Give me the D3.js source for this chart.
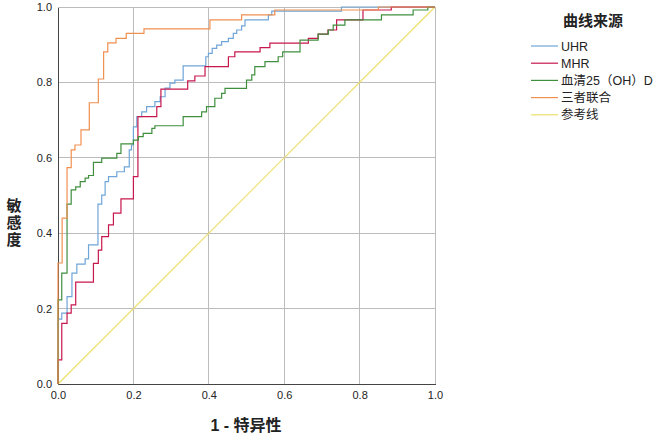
<!DOCTYPE html>
<html><head><meta charset="utf-8">
<script src="https://cdn.jsdelivr.net/npm/d3@7/dist/d3.min.js"></script>
<style>
html,body{margin:0;padding:0;background:#fff;}
svg{display:block;font-family:Arial,"Liberation Sans","Noto Sans CJK SC",sans-serif;}
</style></head>
<body><svg id="c" width="664" height="440"></svg>
<script>
// ---- data (step-curve corners: y rises at previous fpr, then runs right to this fpr) ----
const seriesNames = ["UHR","MHR","血清25（OH）D","三者联合","参考线"];
const seriesColors = ["#6fa5d8","#c8174d","#3f8f3f","#f09050","#ebe06a"];
const ticks = [0,0.2,0.4,0.6,0.8,1.0];
const tickLabels = ["0.0","0.2","0.4","0.6","0.8","1.0"];

const uhrFpr = [0,0.010,0.024,0.037,0.050,0.072,0.081,0.106,0.116,0.125,0.134,0.156,0.176,0.189,0.195,0.200,0.209,0.222,0.235,0.257,0.271,0.284,0.297,0.310,0.332,0.392,0.399,0.409,0.421,0.434,0.452,0.465,0.474,0.487,0.496,0.558,0.567,0.752,1];
const uhrTpr = [0,0.172,0.188,0.232,0.294,0.318,0.332,0.369,0.477,0.501,0.537,0.550,0.563,0.576,0.621,0.634,0.682,0.709,0.722,0.736,0.749,0.762,0.785,0.798,0.806,0.844,0.868,0.877,0.890,0.899,0.908,0.917,0.930,0.939,0.950,0.966,0.979,0.989,1];

const mhrFpr = [0,0.010,0.024,0.035,0.047,0.094,0.107,0.116,0.134,0.147,0.167,0.200,0.212,0.262,0.273,0.344,0.363,0.390,0.452,0.469,0.536,0.562,0.664,0.690,0.716,0.739,0.809,0.884,1];
const mhrTpr = [0,0.064,0.161,0.188,0.210,0.270,0.320,0.355,0.391,0.422,0.453,0.491,0.550,0.709,0.736,0.782,0.804,0.817,0.842,0.868,0.881,0.892,0.904,0.917,0.928,0.939,0.966,0.992,1];

const vitdFpr = [0,0.010,0.024,0.035,0.047,0.059,0.072,0.081,0.094,0.116,0.156,0.167,0.200,0.213,0.226,0.249,0.257,0.332,0.381,0.394,0.416,0.434,0.443,0.500,0.514,0.522,0.549,0.584,0.596,0.642,0.690,0.717,0.730,0.761,0.858,0.942,0.981,1];
const vitdTpr = [0,0.223,0.294,0.477,0.515,0.523,0.537,0.546,0.553,0.588,0.599,0.612,0.637,0.647,0.656,0.665,0.678,0.685,0.709,0.722,0.736,0.758,0.771,0.784,0.806,0.820,0.842,0.855,0.868,0.881,0.912,0.928,0.939,0.952,0.966,0.979,0.992,1];

const combFpr = [0,0.011,0.024,0.035,0.045,0.061,0.083,0.107,0.121,0.132,0.154,0.181,0.228,0.403,0.487,0.575,0.850,1];
const combTpr = [0,0.321,0.440,0.574,0.621,0.634,0.674,0.746,0.809,0.881,0.905,0.917,0.930,0.942,0.966,0.979,0.992,1];

const refFpr = [0,1];
const refTpr = [0,1];

const allFpr = [uhrFpr, mhrFpr, vitdFpr, combFpr, refFpr];
const allTpr = [uhrTpr, mhrTpr, vitdTpr, combTpr, refTpr];

// ---- chart ----
const svg = d3.select("#c");
const L = 58, R = 435, T = 7, B = 384;
const x = d3.scaleLinear().domain([0,1]).range([L,R]);
const y = d3.scaleLinear().domain([0,1]).range([B,T]);

// grid
const g = svg.append("g");
g.selectAll("line.vx").data(ticks.slice(1)).join("line")
  .attr("x1",d=>x(d)).attr("x2",d=>x(d)).attr("y1",T).attr("y2",B)
  .attr("stroke","#bcbcbc").attr("stroke-width",1).attr("shape-rendering","crispEdges");
g.selectAll("line.hy").data(ticks.slice(1)).join("line")
  .attr("y1",d=>y(d)).attr("y2",d=>y(d)).attr("x1",L).attr("x2",R)
  .attr("stroke","#bcbcbc").attr("stroke-width",1).attr("shape-rendering","crispEdges");

// axes
const fmt = (d)=>tickLabels[ticks.indexOf(d)] || d3.format(".1f")(d);
const xa = svg.append("g").attr("transform",`translate(0,${B})`)
  .call(d3.axisBottom(x).tickValues(ticks).tickFormat(fmt).tickSize(0).tickPadding(7));
const ya = svg.append("g").attr("transform",`translate(${L},0)`)
  .call(d3.axisLeft(y).tickValues(ticks).tickFormat(fmt).tickSize(0).tickPadding(6));
[xa,ya].forEach(a=>{
  a.select(".domain").attr("stroke","#444").attr("stroke-width",1).attr("shape-rendering","crispEdges");
  a.selectAll("text").attr("fill","#222").attr("font-size","11px").attr("font-family","Arial,'Liberation Sans',sans-serif");
});
ya.selectAll(".tick text").attr("dy","0.32em");

// curves
const line = d3.line().x(d=>x(d[0])).y(d=>y(d[1]));
const order = [4,0,1,2,3];
order.forEach(i=>{
  const pts = d3.zip(allFpr[i], allTpr[i]);
  svg.append("path").datum(pts)
    .attr("fill","none").attr("stroke",seriesColors[i]).attr("stroke-width",1.2)
    .attr("d", line.curve(i===4 ? d3.curveLinear : d3.curveStepBefore));
});

// axis titles
svg.append("text").attr("x",246).attr("y",431).attr("text-anchor","middle")
  .attr("font-size","16px").attr("font-weight","bold").attr("fill","#222")
  .attr("font-family","Arial,'Noto Sans CJK SC',sans-serif")
  .text("1 - 特异性");
svg.append("text").attr("x",14).attr("y",223).attr("text-anchor","middle")
  .attr("font-size","15px").attr("font-weight","bold").attr("fill","#222")
  .attr("font-family","'Noto Sans CJK SC',sans-serif")
  .style("writing-mode","vertical-rl").style("text-orientation","upright")
  .style("letter-spacing","2px")
  .text("敏感度");

// legend
svg.append("text").attr("x",593).attr("y",26).attr("text-anchor","middle")
  .attr("font-size","15px").attr("font-weight","bold").attr("fill","#222")
  .attr("font-family","'Noto Sans CJK SC',sans-serif").text("曲线来源");
const lg = svg.append("g");
seriesNames.forEach((n,i)=>{
  const yy = 46 + i*17.2;
  lg.append("line").attr("x1",531).attr("x2",558).attr("y1",yy).attr("y2",yy)
    .attr("stroke",seriesColors[i]).attr("stroke-width",1.2);
  lg.append("text").attr("x",561).attr("y",yy).attr("dy","0.36em")
    .attr("font-size","12.5px").attr("fill","#222")
    .attr("font-family","Arial,'Liberation Sans','Noto Sans CJK SC',sans-serif").text(n);
});
</script></body></html>
